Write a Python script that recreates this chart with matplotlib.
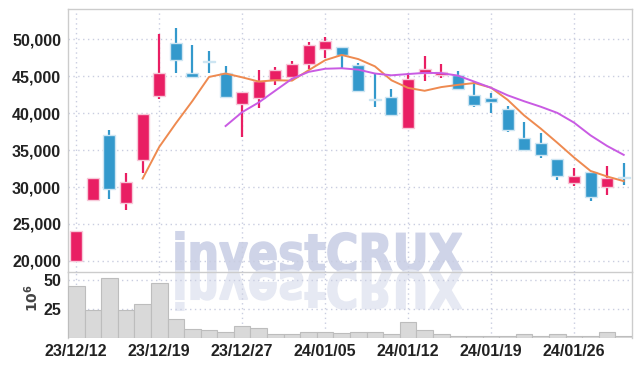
import matplotlib
matplotlib.use("Agg")
import matplotlib.pyplot as plt
import numpy as np
import pandas as pd
from matplotlib.patches import PathPatch
from matplotlib.textpath import TextPath
from matplotlib.font_manager import FontProperties
from matplotlib.transforms import Affine2D, IdentityTransform

# trading days (yy/mm/dd)
dates = ["23/12/12", "23/12/13", "23/12/14", "23/12/15", "23/12/18", "23/12/19",
         "23/12/20", "23/12/21", "23/12/22", "23/12/26", "23/12/27", "23/12/28",
         "24/01/02", "24/01/03", "24/01/04", "24/01/05", "24/01/08", "24/01/09",
         "24/01/10", "24/01/11", "24/01/12", "24/01/15", "24/01/16", "24/01/17",
         "24/01/18", "24/01/19", "24/01/22", "24/01/23", "24/01/24", "24/01/25",
         "24/01/26", "24/01/29", "24/01/30", "24/01/31"]

opens = [20000, 28300, 37050, 27800, 33600, 42350, 49550, 45500, 47000, 45400,
         41200, 42000, 44500, 44850, 46600, 48750, 48900, 46550, 41850, 42150,
         38000, 45500, 45100, 45200, 42500, 42000, 40550, 36600, 35950, 33800,
         30550, 32100, 29950, 31250]
highs = [24100, 31250, 37750, 31900, 39900, 50700, 51500, 49250, 48400, 46400,
         42900, 45850, 46300, 47100, 49700, 50250, 49000, 46750, 45300, 43250,
         45400, 47750, 46600, 45750, 44250, 42700, 41000, 38850, 37300, 33800,
         32550, 32100, 32900, 33250]
lows = [20000, 28300, 28400, 26850, 31900, 41900, 45400, 44950, 45400, 42000,
        36750, 40700, 43800, 44400, 45950, 47450, 45950, 43050, 40800, 39650,
        38000, 44400, 44750, 43250, 40900, 40000, 37500, 34950, 33900, 31000,
        30100, 28150, 28950, 30300]
closes = [24100, 31250, 29800, 30700, 39900, 45500, 47200, 44950, 46950, 42250,
          42900, 44350, 45850, 46650, 49250, 49750, 47900, 43050, 41750, 39800,
          44600, 45950, 45550, 43250, 41050, 41450, 37750, 34950, 34350, 31450,
          31550, 28600, 31200, 31200]
# volume in millions
volumes = [44.8, 24.1, 52.0, 24.1, 29.3, 47.1, 16.4, 7.8, 6.9, 5.5,
           10.3, 8.3, 3.4, 3.4, 5.5, 4.9, 4.0, 4.9, 5.5, 3.4,
           14.0, 6.9, 3.4, 2.0, 2.0, 2.0, 2.0, 3.2, 2.0, 3.2,
           2.0, 2.0, 4.9, 2.0]

UP = '#e91e63'
DOWN = '#3399cc'
UP_EDGE = '#f7c9d9'
DOWN_EDGE = '#cde5f2'
GRID = '#c9cde0'
SPINE = '#cccccc'
TXT = '#222222'

plt.rcParams['font.family'] = ['Liberation Sans Narrow', 'Liberation Sans', 'DejaVu Sans']
plt.rcParams['font.weight'] = 'bold'

fig = plt.figure(figsize=(6.42, 3.66), dpi=100, facecolor='white')
W, H = 642, 366
ax = fig.add_axes([68 / W, 1 - 272 / H, 564 / W, 263 / H])
axv = fig.add_axes([68 / W, 1 - 338 / H, 564 / W, 66 / H])
for a in (ax, axv):
    a.set_facecolor('none')

x = np.arange(len(dates))
df = pd.DataFrame({'close': closes})
ma5 = df['close'].rolling(5).mean()
ma10 = df['close'].rolling(10).mean()

# candles
for i in x:
    o, h, l, c = opens[i], highs[i], lows[i], closes[i]
    up = c >= o
    col = UP if up else DOWN
    edge = UP_EDGE if up else DOWN_EDGE
    ax.vlines(i, l, h, color=col, linewidth=1.6, zorder=3)
    bottom = min(o, c)
    height = max(abs(c - o), 150)
    ax.bar(i, height, bottom=bottom, width=0.72, color=col,
           edgecolor=edge, linewidth=1.0, zorder=4)

ax.plot(x, ma5, color='#ee8a50', linewidth=1.4, zorder=5)
ax.plot(x, ma10, color='#c95be3', linewidth=1.4, zorder=5)

ax.set_xlim(-0.5, len(dates) - 0.5)
ax.set_ylim(18500, 54100)
yt = [20000, 25000, 30000, 35000, 40000, 45000, 50000]
ax.set_yticks(yt)
ax.set_yticklabels([f'{v:,}' for v in yt])

# volume
axv.bar(x, volumes, width=1.0, color='#d9d9d9', edgecolor='#bdbdbd',
        linewidth=0.8, zorder=3)
axv.set_xlim(-0.5, len(dates) - 0.5)
axv.set_ylim(0, 56.9)
axv.set_yticks([25, 50])
axv.set_yticklabels(['25', '50'])

ticks = x[::5]
for a in (ax, axv):
    a.set_xticks(ticks)
    a.grid(True, color=GRID, linestyle=(0, (1, 2.5)), linewidth=1.0, zorder=0)
    a.set_axisbelow(True)
    a.tick_params(length=0, labelsize=11.5, labelcolor=TXT, pad=5)
    for s in a.spines.values():
        s.set_color(SPINE)
        s.set_linewidth(1.0)

ax.tick_params(labelbottom=False)
axv.set_xticklabels([dates[i] for i in ticks])
axv.tick_params(axis='x', pad=4)
axv.spines['top'].set_visible(False)
axv.spines['bottom'].set_visible(False)
fig.text(32 / W, 1 - 298 / H, r'$10^6$', rotation=90, ha='center', va='center',
         fontsize=10, color='#444444', fontweight='normal')

# watermark with reflection
fp = FontProperties(family='DejaVu Sans', weight='bold')
tp = TextPath((0, 0), 'investCRUX', size=100, prop=fp)
ext = tp.get_extents()
cap = TextPath((0, 0), 'C', size=100, prop=fp).get_extents()
sx = 286 / ext.width
sy = 39 / cap.height
x0 = 176 - ext.x0 * sx
base = H - 271
wm = PathPatch(tp, transform=Affine2D().scale(sx, sy).translate(x0, base) + IdentityTransform(),
               facecolor='#cfd4e8', edgecolor='#cfd4e8', linewidth=1.2, zorder=-1)
wr = PathPatch(tp, transform=Affine2D().scale(sx, -sy).translate(x0, base) + IdentityTransform(),
               facecolor='#e6e9f3', edgecolor='#e6e9f3', linewidth=1.2, zorder=-1)
fig.add_artist(wm)
fig.add_artist(wr)

fig.savefig('out.png', dpi=100, facecolor='white')
